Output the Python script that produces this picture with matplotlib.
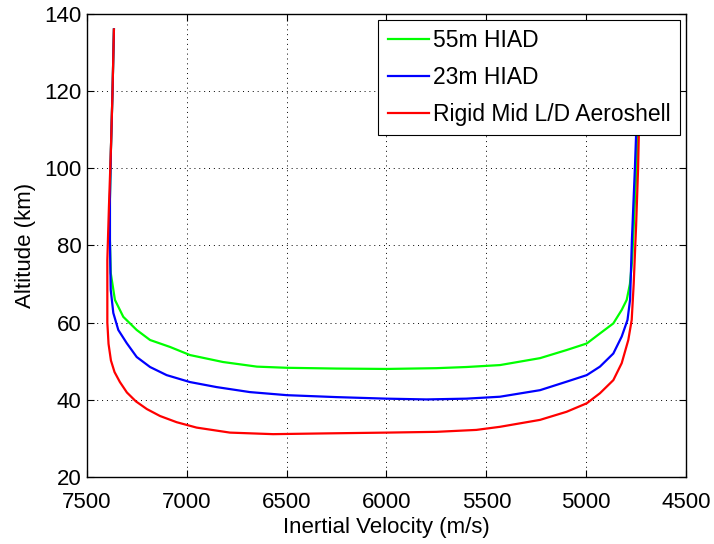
import matplotlib
matplotlib.use("Agg")
import matplotlib.pyplot as plt

plt.rcParams['font.family'] = ['Liberation Sans', 'DejaVu Sans']

# series values (velocity m/s, altitude km)
v_55 = [7365, 7372, 7380, 7385, 7385, 7381, 7360, 7318, 7251, 7184, 7084, 6984, 6819, 6649,
        6500, 6250, 6000, 5750, 5600, 5432, 5231, 5098, 4997, 4931, 4864, 4822, 4797,
        4781, 4770, 4760, 4748, 4738, 4730]
alt_55 = [136, 120, 105, 92, 81.4, 72.9, 65.9, 61.5, 58.1, 55.5, 53.7, 51.6, 49.8, 48.6,
          48.3, 48.1, 48.0, 48.2, 48.5, 49.0, 50.8, 52.9, 54.6, 57.2, 59.8, 63.3, 65.9,
          70, 76, 87, 100, 118, 136]

v_23 = [7365, 7372, 7380, 7385, 7385, 7381, 7368, 7343, 7301, 7251, 7184, 7101, 6984, 6851,
        6684, 6498, 6250, 6000, 5800, 5600, 5432, 5231, 5098, 4997, 4931, 4864, 4822,
        4793, 4780, 4771, 4756, 4742, 4730]
alt_23 = [136, 120, 105, 92, 81.4, 68.5, 62.5, 58.1, 54.7, 51.1, 48.5, 46.4, 44.6, 43.3,
          42.0, 41.2, 40.7, 40.3, 40.1, 40.3, 40.8, 42.5, 44.7, 46.4, 48.6, 52, 56.4,
          60.7, 66, 81.4, 100, 120, 136]

v_rigid = [7365, 7372, 7380, 7390, 7398, 7398, 7392, 7380, 7362, 7335, 7300, 7255, 7200,
           7134, 7051, 6951, 6784, 6568, 6300, 6000, 5750, 5550, 5432, 5231, 5098, 4997,
           4931, 4864, 4822, 4789, 4772, 4762, 4750, 4740, 4733, 4728]
alt_rigid = [136, 120, 105, 90, 76.2, 60, 54.5, 50.2, 47.2, 44.6, 41.9, 39.6, 37.6,
             35.8, 34.2, 32.8, 31.5, 31.1, 31.3, 31.5, 31.7, 32.2, 33.0, 34.8, 36.9, 39.1,
             41.7, 45.1, 49.5, 55.5, 60.7, 70, 85, 100, 117, 136]

labels = ['55m HIAD', '23m HIAD', 'Rigid Mid L/D Aeroshell']
xticks = [7500, 7000, 6500, 6000, 5500, 5000, 4500]
yticks = [20, 40, 60, 80, 100, 120, 140]

fig = plt.figure(figsize=(7.14, 5.44), dpi=100)
ax = fig.add_axes([0.1218, 0.1232, 0.8390, 0.8511])

ax.plot(v_55, alt_55, color=(0, 1, 0), lw=1.6, label=labels[0])
ax.plot(v_23, alt_23, color=(0, 0, 1), lw=1.6, label=labels[1])
ax.plot(v_rigid, alt_rigid, color=(1, 0, 0), lw=1.6, label=labels[2])

ax.set_xlim(7500, 4500)
ax.set_ylim(20, 140)
ax.set_xticks(xticks)
ax.set_yticks(yticks)
ax.tick_params(direction='in', top=True, right=True, labelsize=16, length=5)
ax.tick_params(axis='x', pad=11)
ax.tick_params(axis='y', pad=4)
ax.grid(True, color='black', linestyle=(0, (1, 4)), linewidth=0.7)
for s in ax.spines.values():
    s.set_linewidth(1.0)

ax.set_xlabel('Inertial Velocity (m/s)', fontsize=16, labelpad=3)
ax.set_ylabel('Altitude (km)', fontsize=16, labelpad=6)

leg = ax.legend(loc='upper right', fontsize=16.5, fancybox=False, framealpha=1,
                edgecolor='black', handlelength=1.8, handletextpad=0.2,
                borderaxespad=0.25, labelspacing=0.62, borderpad=0.4)
leg.get_frame().set_linewidth(0.8)

fig.savefig('out.png', dpi=100)
